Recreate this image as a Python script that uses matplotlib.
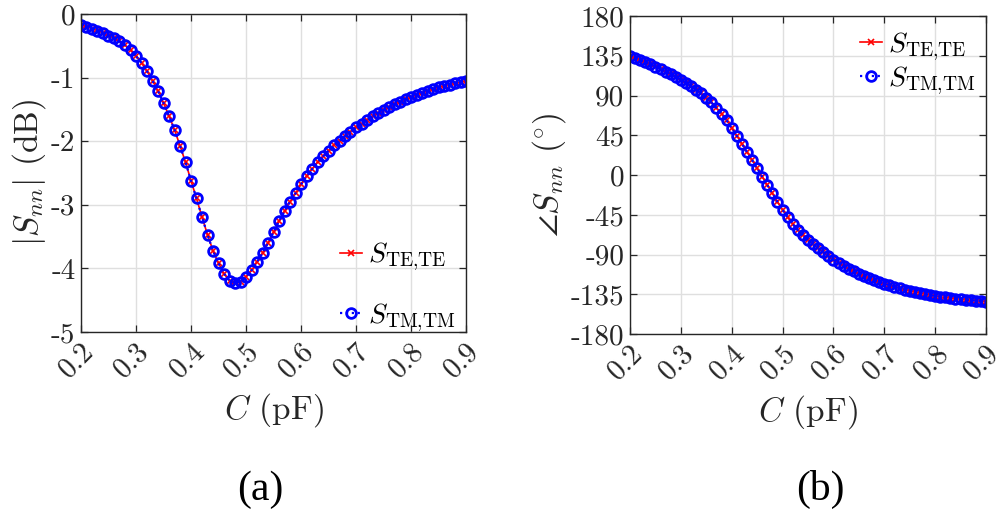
import numpy as np
import matplotlib.pyplot as plt

plt.rcParams['font.family'] = ['cmr10', 'DejaVu Serif']
plt.rcParams['mathtext.fontset'] = 'cm'
plt.rcParams['axes.unicode_minus'] = False

# capacitance sweep (pF), step 0.01
cap = np.round(np.arange(0.20, 0.9001, 0.01), 2)

# |S_nn| in dB (TE and TM coincide)
s_te_db = [-0.17, -0.20, -0.23, -0.26, -0.30, -0.34, -0.38, -0.43, -0.49, -0.57,
           -0.66, -0.77, -0.90, -1.05, -1.21, -1.40, -1.60, -1.82, -2.07, -2.33,
           -2.62, -2.90, -3.19, -3.47, -3.72, -3.92, -4.08, -4.19, -4.23, -4.21,
           -4.13, -4.03, -3.90, -3.76, -3.60, -3.43, -3.26, -3.10, -2.95, -2.82,
           -2.68, -2.55, -2.44, -2.33, -2.24, -2.15, -2.06, -1.99, -1.92, -1.85,
           -1.78, -1.73, -1.67, -1.61, -1.56, -1.51, -1.46, -1.42, -1.38, -1.34,
           -1.31, -1.27, -1.24, -1.21, -1.18, -1.15, -1.13, -1.11, -1.09, -1.07,
           -1.05]
s_tm_db = list(s_te_db)

# phase of S_nn in degrees
s_te_deg = [134.6, 132.4, 130.1, 127.8, 125.3, 122.7, 120.0, 117.2, 114.2, 111.1,
            107.9, 104.5, 100.8, 96.8, 92.4, 87.6, 82.2, 76.2, 69.5, 61.9,
            53.0, 44.4, 35.5, 26.2, 17.0, 7.5, -1.9, -11.3, -20.7, -30.2,
            -39.4, -47.9, -55.6, -62.2, -67.8, -73.2, -78.2, -82.8, -87.3, -91.5,
            -96.0, -99.5, -103.0, -106.0, -109.0, -112.0, -114.5, -116.8, -119.0, -121.0,
            -123.0, -124.8, -126.5, -128.1, -129.6, -131.0, -132.3, -133.5, -134.7, -135.9,
            -137.0, -137.8, -138.5, -139.2, -139.9, -140.5, -141.1, -141.7, -142.2, -142.8,
            -143.3]
s_tm_deg = list(s_te_deg)

xticks = [0.2, 0.3, 0.4, 0.5, 0.6, 0.7, 0.8, 0.9]
xticklabels = ['0.2', '0.3', '0.4', '0.5', '0.6', '0.7', '0.8', '0.9']
yticks_a = [0, -1, -2, -3, -4, -5]
yticks_b = [180, 135, 90, 45, 0, -45, -90, -135, -180]

te_label = r'$S_{\mathrm{TE{,}TE}}$'
tm_label = r'$S_{\mathrm{TM{,}TM}}$'

fig = plt.figure(figsize=(10, 5.18), dpi=100)
ax1 = fig.add_axes([0.081, 0.359, 0.385, 0.614])
ax2 = fig.add_axes([0.630, 0.355, 0.356, 0.614])

dark = '#262626'


def style(ax, yticks):
    ax.set_xlim(0.2, 0.9)
    ax.set_xticks(xticks)
    ax.set_xticklabels(xticklabels, rotation=45, ha='right', va='top',
                       rotation_mode='anchor')
    ax.set_yticks(yticks)
    ax.set_yticklabels([str(v) for v in yticks])
    ax.grid(True, color='#dfdfdf', lw=1.0)
    ax.set_axisbelow(True)
    ax.tick_params(direction='in', top=True, right=True, length=5,
                   width=0.9, colors=dark, labelsize=21, pad=4)
    for sp in ax.spines.values():
        sp.set_color(dark)
        sp.set_linewidth(1.0)
    ax.set_xlabel(r'$C$ (pF)', fontsize=24, color=dark, labelpad=6)


def draw(ax, te, tm):
    ax.plot(cap, te, color='red', lw=1.2, marker='x', ms=4, mew=1.2,
            label=te_label)
    ax.plot(cap, tm, color='blue', lw=1.6, ls=':', marker='o', ms=7,
            mew=2.0, mfc='none', label=tm_label)


draw(ax1, s_te_db, s_tm_db)
style(ax1, yticks_a)
ax1.set_ylim(-5, 0)
ax1.set_ylabel(r'$|S_{nn}|$ (dB)', fontsize=24, color=dark, labelpad=2)
leg1 = ax1.legend(loc='lower right', bbox_to_anchor=(1.0, -0.04),
                  frameon=False, fontsize=20, handlelength=0.8,
                  handletextpad=0.2, labelspacing=1.0, borderaxespad=0.0)

draw(ax2, s_te_deg, s_tm_deg)
style(ax2, yticks_b)
ax2.set_ylim(-180, 180)
ax2.set_ylabel(r'$\angle S_{nn}$ ($^{\circ}$)', fontsize=24, color=dark,
               labelpad=2)
leg2 = ax2.legend(loc='upper right', bbox_to_anchor=(1.0, 0.99),
                  frameon=False, fontsize=20, handlelength=0.8,
                  handletextpad=0.2, labelspacing=0.05, borderaxespad=0.0)

fig.text(0.26, 0.055, '(a)', fontsize=30, family='Liberation Serif',
         ha='center', va='center')
fig.text(0.82, 0.055, '(b)', fontsize=30, family='Liberation Serif',
         ha='center', va='center')

fig.savefig('out.png', dpi=100)
